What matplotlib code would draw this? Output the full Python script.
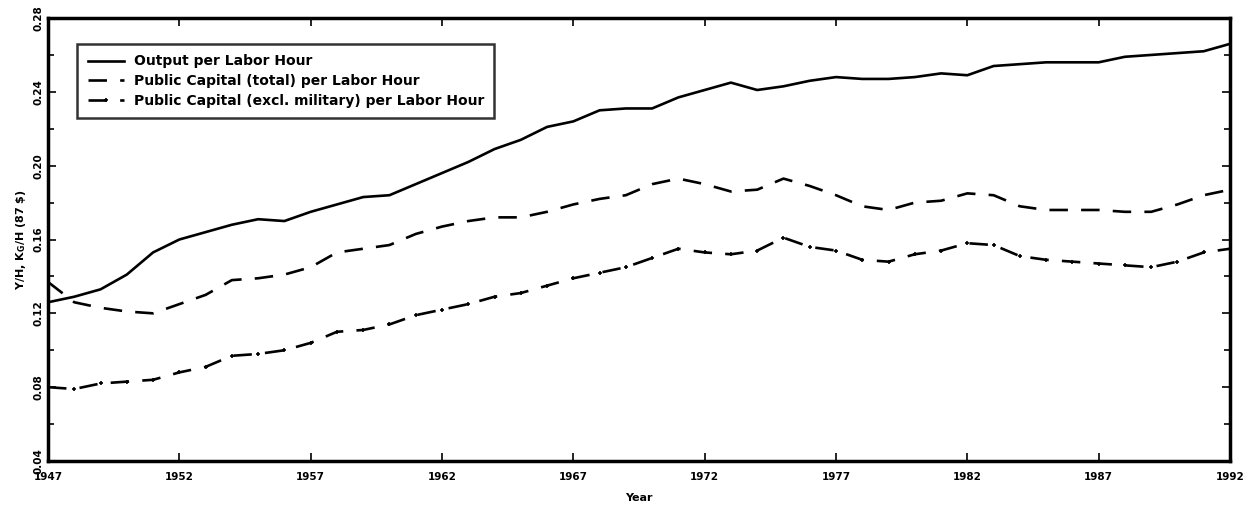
import matplotlib.pyplot as plt
import numpy as np
from matplotlib.ticker import MultipleLocator

years = np.arange(1947, 1993)

# Output per labor hour
output_per_hour = [
    0.126, 0.129, 0.133, 0.141, 0.153, 0.160, 0.164, 0.168, 0.171, 0.170,
    0.175, 0.179, 0.183, 0.184, 0.190, 0.196, 0.202, 0.209, 0.214, 0.221,
    0.224, 0.230, 0.231, 0.231, 0.237, 0.241, 0.245, 0.241, 0.243, 0.246,
    0.248, 0.247, 0.247, 0.248, 0.250, 0.249, 0.254, 0.255, 0.256, 0.256,
    0.256, 0.259, 0.260, 0.261, 0.262, 0.266,
]

# Public capital (total) per labor hour
pubcap_total = [
    0.137, 0.126, 0.123, 0.121, 0.120, 0.125, 0.130, 0.138, 0.139, 0.141,
    0.145, 0.153, 0.155, 0.157, 0.163, 0.167, 0.170, 0.172, 0.172, 0.175,
    0.179, 0.182, 0.184, 0.190, 0.193, 0.190, 0.186, 0.187, 0.193, 0.189,
    0.184, 0.178, 0.176, 0.180, 0.181, 0.185, 0.184, 0.178, 0.176, 0.176,
    0.176, 0.175, 0.175, 0.179, 0.184, 0.187,
]

# Public capital (excl. military) per labor hour
pubcap_nonmil = [
    0.080, 0.079, 0.082, 0.083, 0.084, 0.088, 0.091, 0.097, 0.098, 0.100,
    0.104, 0.110, 0.111, 0.114, 0.119, 0.122, 0.125, 0.129, 0.131, 0.135,
    0.139, 0.142, 0.145, 0.150, 0.155, 0.153, 0.152, 0.154, 0.161, 0.156,
    0.154, 0.149, 0.148, 0.152, 0.154, 0.158, 0.157, 0.151, 0.149, 0.148,
    0.147, 0.146, 0.145, 0.148, 0.153, 0.155,
]

plt.rcParams['font.family'] = ['DejaVu Sans']
plt.rcParams['font.weight'] = 'bold'

fig = plt.figure(figsize=(12.5, 5.09), dpi=100)
ax = fig.add_axes([0.0384, 0.0943, 0.9456, 0.8703])

ax.plot(years, output_per_hour, color='black', linewidth=1.9,
        label='Output per Labor Hour')
ax.plot(years, pubcap_total, color='black', linewidth=1.9,
        dashes=(7, 5), label='Public Capital (total) per Labor Hour')
ax.plot(years, pubcap_nonmil, color='black', linewidth=1.9,
        dashes=(7, 5), marker='+', markersize=3.5, markeredgewidth=1.2,
        label='Public Capital (excl. military) per Labor Hour')

ax.set_xlim(1947, 1992)
ax.set_ylim(0.04, 0.28)
ax.set_xticks(np.arange(1947, 1993, 5))
ax.yaxis.set_major_locator(MultipleLocator(0.04))
ax.yaxis.set_minor_locator(MultipleLocator(0.02))
ylabels = ax.set_yticklabels([f'{v:.2f}' for v in ax.get_yticks()],
                             rotation=90, va='center')
# nudge the bottom label up so it clears the first year label
ylabels[0].set_va('bottom')

ax.tick_params(axis='both', which='both', direction='in',
               top=True, right=True, labelsize=7.5, width=1.2)
ax.tick_params(which='major', length=6)
ax.tick_params(axis='x', which='major', pad=8)
ax.tick_params(which='minor', length=4)

for spine in ax.spines.values():
    spine.set_linewidth(2.5)

ax.set_xlabel('Year', fontsize=8, fontweight='bold', labelpad=8)
ax.set_ylabel('Y/H, K$_\\mathbf{G}$/H (87 \\$)', fontsize=8,
              fontweight='bold', labelpad=4)

leg = ax.legend(loc='upper left', bbox_to_anchor=(0.019, 0.957),
                fontsize=10, frameon=True, fancybox=False,
                handlelength=2.6, borderpad=0.75, labelspacing=0.4,
                handletextpad=0.7)
leg.get_frame().set_edgecolor('black')
leg.get_frame().set_linewidth(1.8)

fig.savefig('out.png', dpi=100)
